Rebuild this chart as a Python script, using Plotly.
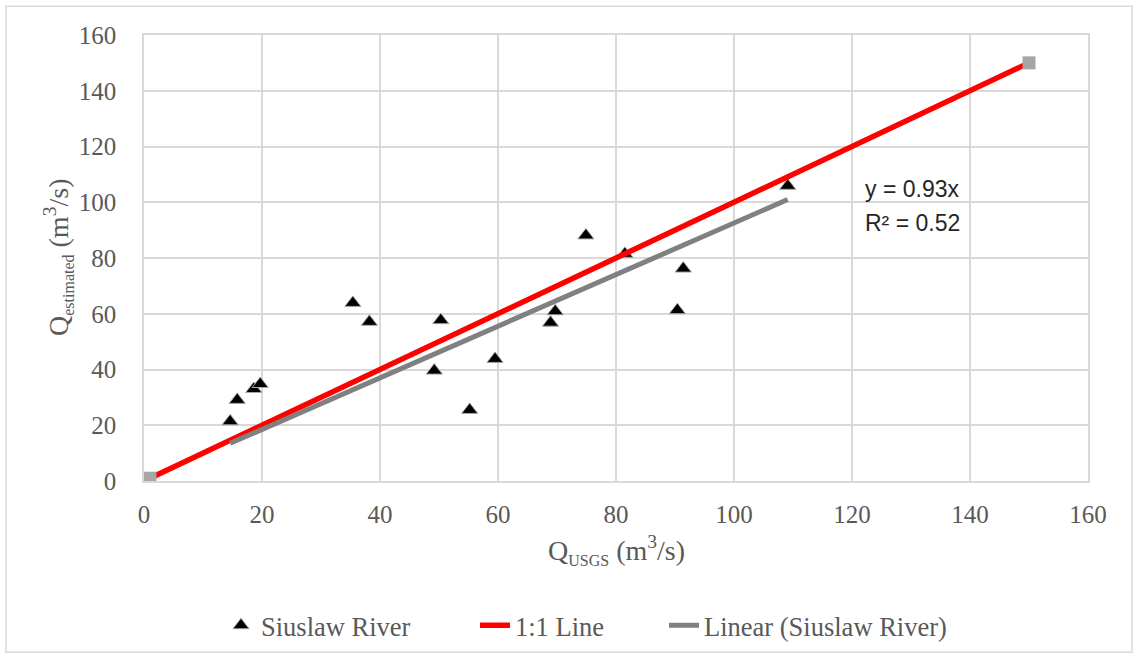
import numpy as np
import plotly.graph_objects as go

# Observed data (Siuslaw River)
q_usgs = [14.6, 15.8, 18.6, 19.7, 35.4, 38.2, 49.2, 50.3, 55.2, 59.5,
          68.9, 69.7, 74.9, 81.5, 90.4, 91.4, 109.1]
q_est = [21.4, 29.1, 33.0, 34.8, 63.9, 57.1, 39.6, 57.7, 25.5, 43.8,
         56.8, 60.9, 88.1, 81.5, 61.3, 76.2, 105.9]

# 1:1 line end points
one_x = [1, 150]
one_y = [1, 150]

x_ticks = [0, 20, 40, 60, 80, 100, 120, 140, 160]
y_ticks = [0, 20, 40, 60, 80, 100, 120, 140, 160]

# linear trend through origin fitted from the data
xa = np.array(q_usgs)
ya = np.array(q_est)
slope = float((xa * ya).sum() / (xa * xa).sum())
trend_x = [float(xa.min()), float(xa.max())]
trend_y = [slope * v for v in trend_x]

serif = "Liberation Serif"
grey_txt = "#595959"
grid = "#d9d9d9"

fig = go.Figure()
fig.add_trace(go.Scatter(
    x=q_usgs, y=q_est, mode="markers", name="Siuslaw River", legend="legend",
    marker=dict(symbol="triangle-up", size=14, color="black",
                line=dict(color="#a6a6a6", width=1))))
fig.add_trace(go.Scatter(
    x=one_x, y=one_y, mode="lines", name="1:1 Line", legend="legend2",
    line=dict(color="#ff0000", width=5.5)))
fig.add_trace(go.Scatter(
    x=one_x, y=one_y, mode="markers", showlegend=False,
    marker=dict(symbol="square", size=13, color="#a6a6a6")))
fig.add_trace(go.Scatter(
    x=trend_x, y=trend_y, mode="lines", name="Linear (Siuslaw River)", legend="legend3",
    line=dict(color="#808080", width=5)))

leg_common = dict(orientation="h", xanchor="left", y=-0.324, yanchor="middle",
                  font=dict(family=serif, size=26.5, color=grey_txt),
                  bgcolor="rgba(0,0,0,0)")

sub_style = "font-size:16px"
fig.update_layout(
    width=1138, height=661,
    margin=dict(l=144, r=50, t=35, b=178),
    paper_bgcolor="white", plot_bgcolor="white",
    font=dict(family=serif, color=grey_txt, size=25),
    legend=dict(x=(221 - 144) / 944, **leg_common),
    legend2=dict(x=(475 - 144) / 944, **leg_common),
    legend3=dict(x=(664 - 144) / 944, **leg_common),
    shapes=[dict(type="rect", xref="paper", yref="paper",
                 x0=-138/944, x1=1 + 44/944, y0=-172/448, y1=1 + 29/448,
                 line=dict(color="#d9d9d9", width=1.5), layer="below")],
    annotations=[
        dict(x=121.9, y=104.8, xref="x", yref="y", xanchor="left", yanchor="middle",
             text="y = 0.93x", showarrow=False,
             font=dict(family="Liberation Sans", size=23, color="#262626")),
        dict(x=121.9, y=92.6, xref="x", yref="y", xanchor="left", yanchor="middle",
             text="R² = 0.52", showarrow=False,
             font=dict(family="Liberation Sans", size=23, color="#262626")),
        dict(x=-86/944, y=0.5, xref="paper", yref="paper", xanchor="center",
             yanchor="middle", textangle=-90, showarrow=False,
             text=f"Q<sub><span style='{sub_style}'>estimated</span></sub> (m<sup>3</sup>/s)",
             font=dict(family=serif, size=28, color=grey_txt)),
        dict(x=0.5, y=-69/448, xref="paper", yref="paper", xanchor="center",
             yanchor="middle", showarrow=False,
             text=f"Q<sub><span style='{sub_style}'>USGS</span></sub> (m<sup>3</sup>/s)",
             font=dict(family=serif, size=28, color=grey_txt)),
    ],
)
fig.update_xaxes(range=[0, 160], tickvals=x_ticks, showgrid=True, gridcolor=grid,
                 gridwidth=1.5, zeroline=False, showline=True, mirror=True,
                 linecolor=grid, linewidth=1.5, ticks="outside", ticklen=10,
                 tickcolor="rgba(0,0,0,0)", tickfont=dict(size=25, color=grey_txt))
fig.update_yaxes(range=[0, 160], tickvals=y_ticks, showgrid=True, gridcolor=grid,
                 gridwidth=1.5, zeroline=False, showline=True, mirror=True,
                 linecolor=grid, linewidth=1.5, ticks="outside", ticklen=21,
                 tickcolor="rgba(0,0,0,0)", tickfont=dict(size=25, color=grey_txt))

fig.write_html("out.html", config={"displayModeBar": False},
               post_script="document.body.style.margin='0';")
